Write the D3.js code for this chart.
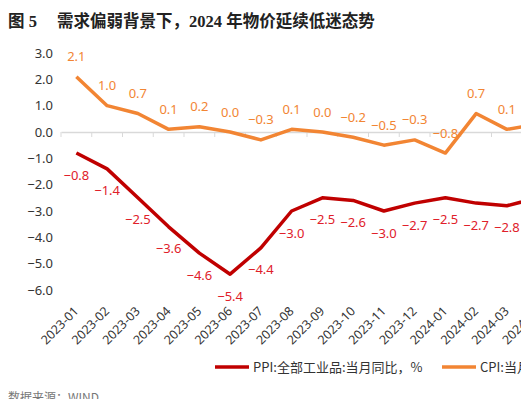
<!DOCTYPE html>
<html><head><meta charset="utf-8">
<script src="https://cdn.jsdelivr.net/npm/d3@7"></script>
<style>body{margin:0;background:#fff;overflow:hidden}svg{display:block}</style>
</head><body>
<svg id="c" width="521" height="399"></svg>
<script>
const months = ["2023-01","2023-02","2023-03","2023-04","2023-05","2023-06","2023-07","2023-08","2023-09","2023-10","2023-11","2023-12","2024-01","2024-02","2024-03","2024-04"];
const cpi = [2.1,1.0,0.7,0.1,0.2,0.0,-0.3,0.1,0.0,-0.2,-0.5,-0.3,-0.8,0.7,0.1,0.3];
const ppi = [-0.8,-1.4,-2.5,-3.6,-4.6,-5.4,-4.4,-3.0,-2.5,-2.6,-3.0,-2.7,-2.5,-2.7,-2.8,-2.5];
const yTicks = [3,2,1,0,-1,-2,-3,-4,-5,-6];
const seriesNames = ["PPI:全部工业品:当月同比，%","CPI:当月同比，%"];
const titleNum = "图 5";
const title = "需求偏弱背景下，2024 年物价延续低迷态势";
const source = "数据来源：WIND";

const svg = d3.select("#c");
const font = "'Noto Sans','Open Sans',sans-serif";
const ppiColor = "#C00000", ppiLabel = "#E0202A";
const cpiColor = "#F28533", cpiLabel = "#F28533";

const tfont = "'Liberation Serif','Noto Sans CJK SC',serif";
svg.append("text").attr("x",8).attr("y",27).attr("font-size",16.5).attr("font-weight","bold")
  .attr("font-family",tfont).attr("fill","#222").text(titleNum);
svg.append("text").attr("x",57).attr("y",27).attr("font-size",16.5).attr("font-weight","bold")
  .attr("font-family",tfont).attr("fill","#222").style("white-space","pre").text(title);

const x = d3.scaleBand().domain(months).range([61, 61 + 30.75*months.length]);
const y = d3.scaleLinear().domain([-6,3]).range([290,53]);
const cx = d => x(d) + x.bandwidth()/2;

// y labels
svg.append("g").selectAll("text").data(yTicks).join("text")
  .attr("x",53).attr("y",d=>y(d)).attr("dy","0.35em").attr("text-anchor","end")
  .attr("font-size",13).attr("font-family",font).attr("fill","#333")
  .text(d=>d3.format(".1f")(d));

// x axis at zero
const ax = svg.append("g").attr("transform",`translate(0,${y(0)})`)
  .call(d3.axisBottom(x).tickSize(5).tickFormat("").tickSizeOuter(0));
ax.select(".domain").attr("stroke","#d9d9d9").attr("stroke-width",1.5);
ax.selectAll(".tick line").attr("stroke","#d9d9d9").attr("transform",`translate(${-x.bandwidth()/2},0)`);

// x labels
svg.append("g").selectAll("text").data(months).join("text")
  .attr("transform",d=>`translate(${cx(d)+3},${312}) rotate(-45)`)
  .attr("text-anchor","end").attr("font-size",12.5).attr("font-family",font).attr("fill","#333")
  .text(d=>d);

const line = d3.line().x((d,i)=>cx(months[i])).y(d=>y(d));
svg.append("path").datum(cpi).attr("d",line).attr("fill","none").attr("stroke",cpiColor)
  .attr("stroke-width",3.5).attr("stroke-linejoin","round");
svg.append("path").datum(ppi).attr("d",line).attr("fill","none").attr("stroke",ppiColor)
  .attr("stroke-width",3.5).attr("stroke-linejoin","round");

svg.append("g").selectAll("text").data(cpi).join("text")
  .attr("x",(d,i)=>cx(months[i])).attr("y",d=>y(d)-20).attr("dy","0.35em").attr("text-anchor","middle")
  .attr("font-size",13).attr("font-family",font).attr("fill",cpiLabel).text(d=>d3.format(".1f")(d));
svg.append("g").selectAll("text").data(ppi).join("text")
  .attr("x",(d,i)=>cx(months[i])).attr("y",d=>y(d)+22).attr("dy","0.35em").attr("text-anchor","middle")
  .attr("font-size",13).attr("font-family",font).attr("fill",ppiLabel).text(d=>d3.format(".1f")(d));

// legend
const leg = [{n:seriesNames[0],c:ppiColor,x:215},{n:seriesNames[1],c:cpiColor,x:442}];
leg.forEach(l=>{
  svg.append("line").attr("x1",l.x).attr("x2",l.x+34).attr("y1",367).attr("y2",367)
    .attr("stroke",l.c).attr("stroke-width",3.5);
  svg.append("text").attr("x",l.x+38).attr("y",367).attr("dy","0.35em").attr("font-size",13)
    .attr("font-family","'Noto Sans CJK SC',sans-serif").attr("fill","#333").text(l.n);
});

svg.append("text").attr("x",8).attr("y",402).attr("font-size",12)
  .attr("font-family","'Noto Sans CJK SC',sans-serif").attr("fill","#777").text(source);
</script>
</body></html>
